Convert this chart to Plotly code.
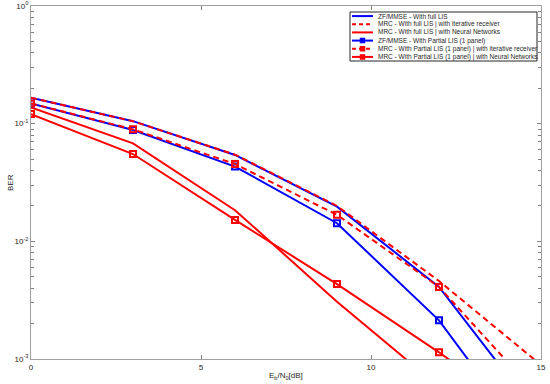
import plotly.graph_objects as go

snr = [0, 3, 6, 9, 12, 15]

full_zf = [0.166, 0.105, 0.0542, 0.0197, 0.0041, 3.1e-4]
full_iter = [0.166, 0.105, 0.0545, 0.0200, 0.0046, 8.9e-4]
full_nn = [0.1375, 0.068, 0.0184, 0.00307, 5.8e-4, 1.1e-4]
part_zf = [0.1486, 0.0883, 0.0432, 0.01426, 0.00213, 1.44e-4]
part_iter = [0.1486, 0.0895, 0.0454, 0.0168, 0.0041, 4.6e-4]
part_nn = [0.1206, 0.0552, 0.0152, 0.00433, 0.00114, 2.7e-4]

names = [
    "ZF/MMSE - With full LIS",
    "MRC - With full LIS | with iterative receiver",
    "MRC - With full LIS | with Neural Networks",
    "ZF/MMSE - With Partial LIS (1 panel)",
    "MRC - With Partial LIS (1 panel) | with iterative receiver",
    "MRC - With Partial LIS (1 panel) | with Neural Networks",
]

decades = [-3, -2, -1, 0]

BLUE = "#0000FF"
RED = "#FF0000"
W, H = 550, 384
ML, MR, MT, MB = 31, 9, 6, 25
PW, PH = W - ML - MR, H - MT - MB


def px(xp):
    return (xp - ML) / PW


def py(yp):
    return 1 - (yp - MT) / PH


fig = go.Figure()
series = [
    (full_zf, BLUE, "solid", False),
    (full_iter, RED, "dash", False),
    (full_nn, RED, "solid", False),
    (part_zf, BLUE, "solid", True),
    (part_iter, RED, "dash", True),
    (part_nn, RED, "solid", True),
]
DASH = "6px,4px"
for (vals, col, dash, mk), nm in zip(series, names):
    fig.add_trace(go.Scatter(
        x=snr, y=vals, name=nm, showlegend=False, hoverinfo="skip",
        mode="lines+markers" if mk else "lines",
        line=dict(color=col, width=2, dash=DASH if dash == "dash" else "solid"),
        marker=dict(symbol="square-open", size=6, color=col, line=dict(width=2, color=col)),
    ))

# custom compact legend (MATLAB style)
shapes = []
annotations = []
lx0, lx1, ly0, ly1 = 350, 537, 12, 61
shapes.append(dict(type="rect", xref="paper", yref="paper",
                   x0=px(lx0), x1=px(lx1), y0=py(ly1), y1=py(ly0),
                   line=dict(color="#262626", width=1), fillcolor="white", layer="above"))
row_h = (ly1 - ly0) / 6
for i, ((vals, col, dash, mk), nm) in enumerate(zip(series, names)):
    yc = ly0 + row_h * (i + 0.5)
    shapes.append(dict(type="line", xref="paper", yref="paper",
                       x0=px(352), x1=px(373), y0=py(yc), y1=py(yc), layer="above",
                       line=dict(color=col, width=2, dash="4px,3px" if dash == "dash" else "solid")))
    if mk:
        shapes.append(dict(type="rect", xref="paper", yref="paper",
                           x0=px(360.5), x1=px(364.5), y0=py(yc + 2), y1=py(yc - 2),
                           layer="above", fillcolor=col,
                           line=dict(color=col, width=1.5)))
    annotations.append(dict(text=nm, xref="paper", yref="paper", x=px(375.5), y=py(yc),
                            xanchor="left", yanchor="middle", showarrow=False,
                            font=dict(size=6.5, color="#262626")))

annotations.append(dict(text="E<sub>b</sub>/N<sub>0</sub>[dB]", xref="paper", yref="paper",
                        x=px(286), y=py(376), xanchor="center", yanchor="middle",
                        showarrow=False, font=dict(size=8, color="#262626")))
annotations.append(dict(text="BER", xref="paper", yref="paper",
                        x=px(10), y=py(183), xanchor="center", yanchor="middle",
                        textangle=-90, showarrow=False, font=dict(size=8, color="#262626")))

# log ticks
major_vals = [10.0 ** e for e in decades]
major_text = [f"10<sup>{e}</sup>" for e in decades]
minor_vals = [m * 10.0 ** e for e in decades[:-1] for m in range(2, 10)]

axis_col = "#A0A0A0"
fig.update_layout(
    width=W, height=H,
    margin=dict(l=ML, r=MR, t=MT, b=MB),
    paper_bgcolor="white", plot_bgcolor="white",
    font=dict(family="Liberation Sans, Arial, sans-serif", size=8, color="#262626"),
    showlegend=False, hovermode=False,
    shapes=shapes, annotations=annotations,
    xaxis=dict(
        range=[0, 15], tickvals=[0, 5, 10, 15], ticks="inside", ticklen=4,
        tickcolor="#808080", showline=True, linecolor=axis_col, linewidth=1,
        mirror="ticks", showgrid=False, zeroline=False, automargin=False,
        tickfont=dict(size=8),
    ),
    yaxis=dict(
        type="log", range=[-3, 0], tickvals=major_vals, ticktext=major_text,
        ticks="inside", ticklen=4, tickcolor="#808080", showline=True,
        linecolor=axis_col, linewidth=1, mirror="ticks", showgrid=False,
        zeroline=False, automargin=False,
        minor=dict(tickvals=minor_vals, ticks="inside", ticklen=3, tickcolor="#808080",
                   showgrid=False),
        tickfont=dict(size=8),
    ),
)

fig.write_html("out.html", config={"displayModeBar": False},
               post_script="document.body.style.margin='0px';")
